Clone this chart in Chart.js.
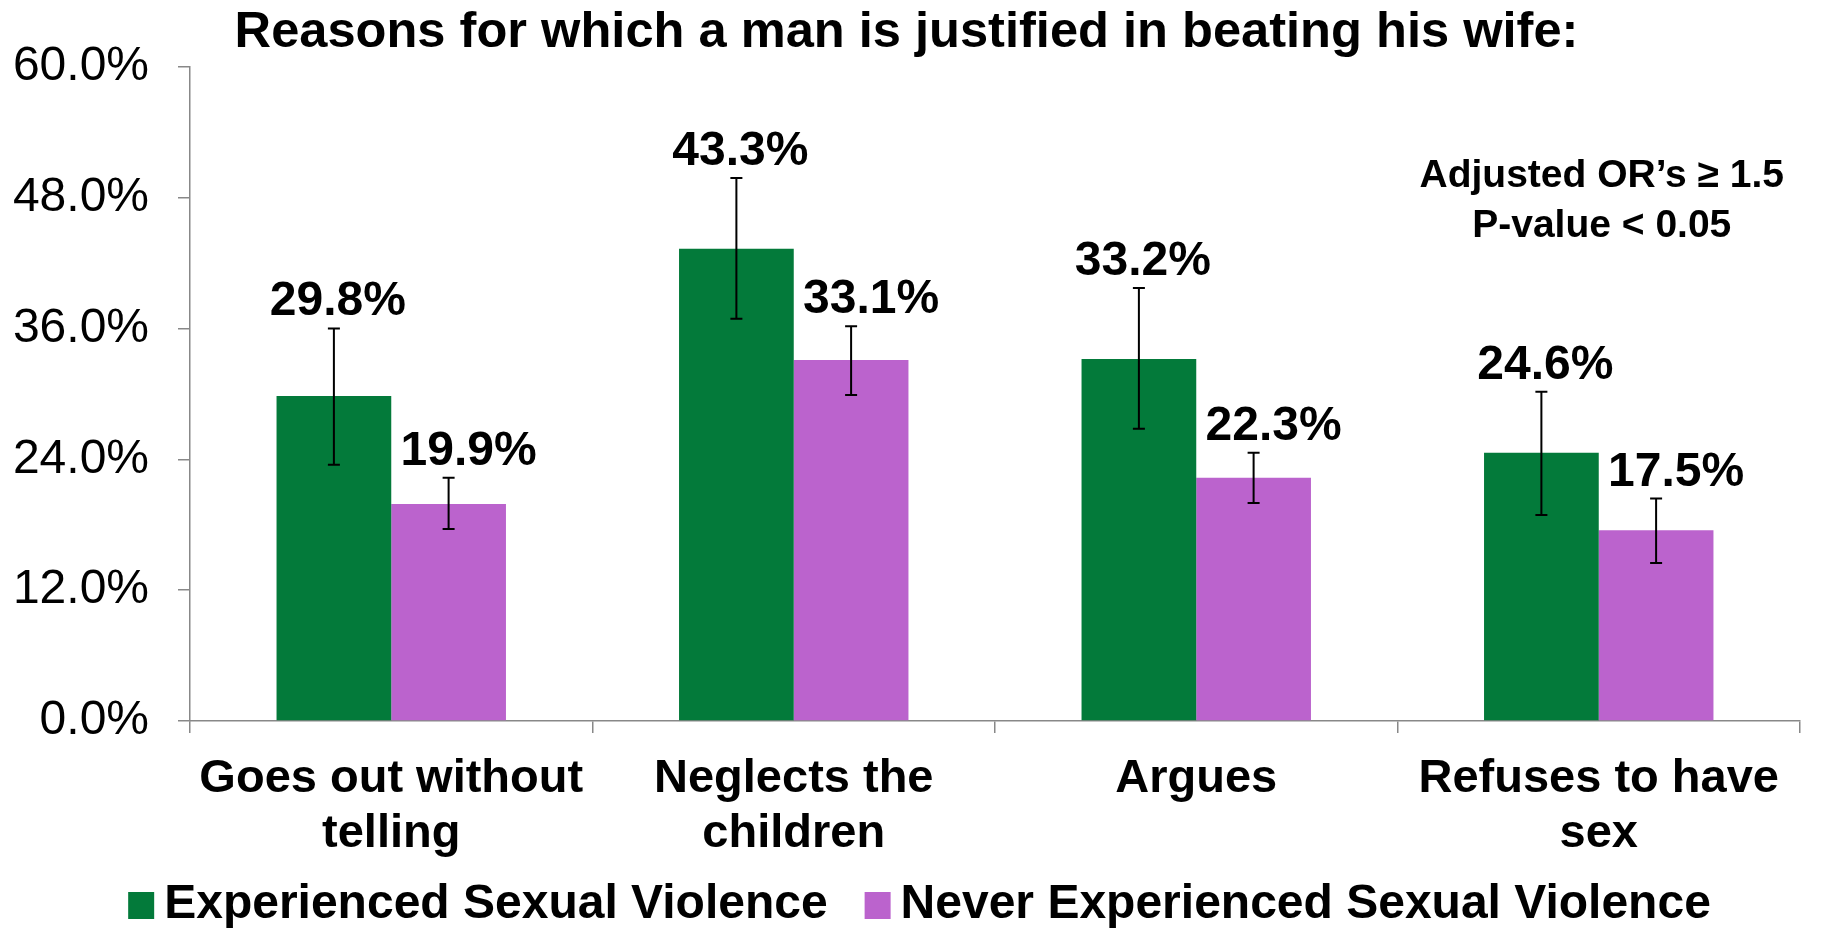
<!DOCTYPE html>
<html>
<head>
<meta charset="utf-8">
<title>Reasons for which a man is justified in beating his wife</title>
<script src="https://cdn.jsdelivr.net/npm/chart.js@4.4.0/dist/chart.umd.min.js"></script>
<style>
    html, body { margin: 0; padding: 0; background: #ffffff; overflow: hidden; }
    #wrap { width: 1833px; height: 930px; position: relative; }
</style>
</head>
<body>
<div id="wrap"><canvas id="chartLyDo"></canvas></div>
<script>
// ---- data ----
const titleText = 'Reasons for which a man is justified in beating his wife:';
const categories = [['Goes out without', 'telling'], ['Neglects the', 'children'], ['Argues'], ['Refuses to have', 'sex']];
const seriesNames = ['Experienced Sexual Violence', 'Never Experienced Sexual Violence'];

const experienced = [29.8, 43.3, 33.2, 24.6];
const experiencedLow = [23.5, 36.9, 26.8, 18.9];
const experiencedHigh = [36.0, 49.8, 39.7, 30.2];

const never = [19.9, 33.1, 22.3, 17.5];
const neverLow = [17.6, 29.9, 20.0, 14.5];
const neverHigh = [22.3, 36.2, 24.6, 20.4];

const yTicks = [0, 12, 24, 36, 48, 60];
const noteLines = ['Adjusted OR\u2019s \u2265 1.5', 'P-value < 0.05'];

const FONT = "'Liberation Sans', Arial, sans-serif";

// ---- plugins ----
// error bars: vertical line + caps, from low/high arrays on the dataset
const errorBars = {
    id: 'errorBars',
    afterDatasetsDraw(chart) {
        const ctx = chart.ctx;
        const y = chart.scales.y;
        ctx.save();
        ctx.strokeStyle = '#000';
        ctx.lineWidth = 2;
        chart.data.datasets.forEach((ds, di) => {
            chart.getDatasetMeta(di).data.forEach((bar, i) => {
                const yLo = y.getPixelForValue(ds.low[i]);
                const yHi = y.getPixelForValue(ds.high[i]);
                ctx.beginPath();
                ctx.moveTo(bar.x, yLo); ctx.lineTo(bar.x, yHi);
                ctx.moveTo(bar.x - 6, yLo); ctx.lineTo(bar.x + 6, yLo);
                ctx.moveTo(bar.x - 6, yHi); ctx.lineTo(bar.x + 6, yHi);
                ctx.stroke();
            });
        });
        ctx.restore();
    }
};

// value labels above the upper error bar
const valueLabels = {
    id: 'valueLabels',
    afterDatasetsDraw(chart) {
        const ctx = chart.ctx;
        const y = chart.scales.y;
        ctx.save();
        ctx.font = 'bold 48px ' + FONT;
        ctx.fillStyle = '#000';
        ctx.textAlign = 'center';
        ctx.textBaseline = 'alphabetic';
        chart.data.datasets.forEach((ds, di) => {
            chart.getDatasetMeta(di).data.forEach((bar, i) => {
                const top = y.getPixelForValue(ds.high[i]);
                ctx.fillText(ds.data[i].toFixed(1) + '%', bar.x + (ds.labelDx || 0), top - 13);
            });
        });
        ctx.restore();
    }
};

// note on the right side
const noteText = {
    id: 'noteText',
    afterDraw(chart) {
        const ctx = chart.ctx;
        const x = chart.scales.x.getPixelForValue(3) + 3;
        const y = chart.scales.y;
        ctx.save();
        ctx.font = 'bold 39px ' + FONT;
        ctx.fillStyle = '#000';
        ctx.textAlign = 'center';
        ctx.textBaseline = 'middle';
        ctx.fillText(noteLines[0], x, y.getPixelForValue(50.0));
        ctx.fillText(noteLines[1], x, y.getPixelForValue(45.4));
        ctx.restore();
    }
};

// legend along the bottom (square + gap + text, like the original)
const bottomLegend = {
    id: 'bottomLegend',
    afterDraw(chart) {
        const ctx = chart.ctx;
        const box = 26, gap = 10, itemGap = 37, cy = 905;
        ctx.save();
        ctx.font = 'bold 48px ' + FONT;
        ctx.textBaseline = 'middle';
        ctx.textAlign = 'left';
        const items = chart.data.datasets.map(ds => ({ text: ds.label, color: ds.backgroundColor, w: ctx.measureText(ds.label).width }));
        let total = 0;
        items.forEach((it, i) => { total += box + gap + it.w + (i < items.length - 1 ? itemGap : 0); });
        let x = chart.width / 2 + 3 - total / 2;
        items.forEach(it => {
            ctx.fillStyle = it.color;
            ctx.fillRect(x, cy - 13, box, 27);
            ctx.fillStyle = '#000';
            ctx.fillText(it.text, x + box + gap, cy);
            x += box + gap + it.w + itemGap;
        });
        ctx.restore();
    }
};

Chart.defaults.font.family = FONT;
Chart.defaults.color = '#000000';

const ctxLyDo = document.getElementById('chartLyDo');
new Chart(ctxLyDo, {
    type: 'bar',
    data: {
        labels: categories,
        datasets: [
            { label: seriesNames[0], data: experienced, low: experiencedLow, high: experiencedHigh, backgroundColor: '#037A3A', labelDx: 4, categoryPercentage: 0.57, barPercentage: 1.0 },
            { label: seriesNames[1], data: never, low: neverLow, high: neverHigh, backgroundColor: '#BB63CD', labelDx: 20, categoryPercentage: 0.57, barPercentage: 1.0 }
        ]
    },
    options: {
        responsive: true, maintainAspectRatio: false, animation: false,
        layout: { padding: { left: 13, right: 33, top: 0, bottom: 49 } },
        scales: {
            x: {
                grid: { offset: true, drawOnChartArea: false, tickLength: 12, color: '#888888', lineWidth: 1.5 },
                border: { color: '#888888', width: 1.5 },
                ticks: { font: { size: 47, weight: 'bold', lineHeight: 1.17 }, padding: 19, maxRotation: 0, autoSkip: false }
            },
            y: {
                min: 0, max: 60,
                afterBuildTicks: axis => { axis.ticks = yTicks.map(v => ({ value: v })); },
                // fit() counts the tick padding twice; pin the axis so the plot starts where the original does
                afterFit: axis => { axis.width = 177; },
                ticks: { font: { size: 48 }, padding: 29, callback: v => v.toFixed(1) + '%' },
                grid: { drawOnChartArea: false, tickLength: 12, color: '#888888', lineWidth: 1.5 },
                border: { color: '#888888', width: 1.5 }
            }
        },
        plugins: {
            title: { display: true, text: titleText, color: '#000', font: { size: 50.6, weight: 'bold' }, padding: { top: 3, bottom: 3 } },
            legend: { display: false },
            tooltip: { enabled: false }
        }
    },
    plugins: [errorBars, valueLabels, noteText, bottomLegend]
});
</script>
</body>
</html>
